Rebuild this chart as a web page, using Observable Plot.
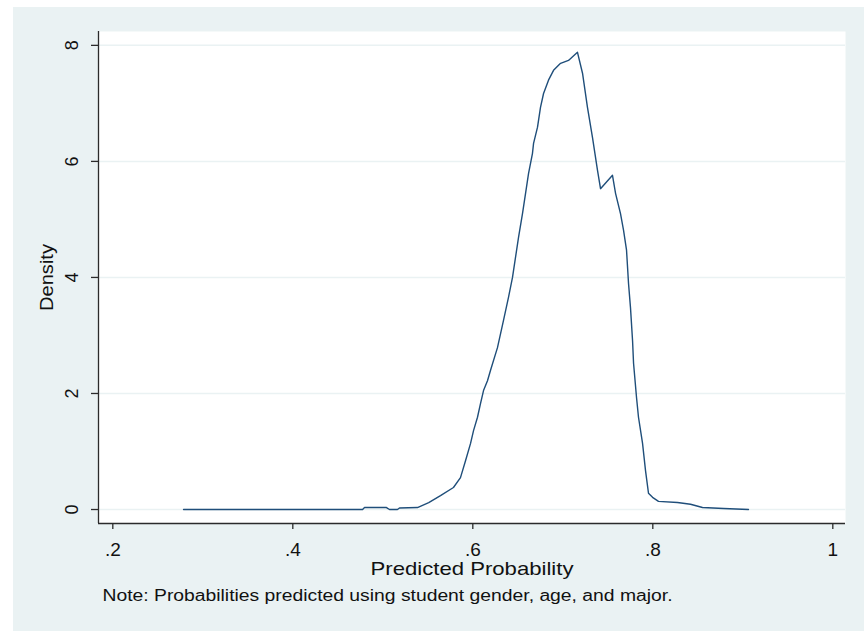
<!DOCTYPE html>
<html>
<head>
<meta charset="utf-8">
<script src="https://cdn.jsdelivr.net/npm/d3@7"></script>
<script src="https://cdn.jsdelivr.net/npm/@observablehq/plot@0.6"></script>
<style>
  html, body { margin: 0; padding: 0; background: #ffffff; }
  #bg { position: absolute; left: 13px; top: 7px; width: 851px; height: 624px; background: #eaf2f3; }
  #chart { position: absolute; left: 0; top: 0; }
</style>
</head>
<body>
<div id="bg"></div>
<div id="chart"></div>
<script>
// Predicted probability (x) and kernel density (y)
const probability = [0.2786, 0.4775, 0.4797, 0.5041, 0.5074, 0.5163, 0.5185, 0.5385, 0.551, 0.5641,
  0.5785, 0.5863, 0.5919, 0.5975, 0.6008, 0.6052, 0.6086, 0.6119, 0.6163, 0.6197,
  0.6274, 0.6341, 0.6397, 0.6441, 0.6474, 0.6508, 0.6552, 0.6586, 0.6619, 0.6663,
  0.6675, 0.6719, 0.6752, 0.6786, 0.6841, 0.6897, 0.6975, 0.7063, 0.7163, 0.7219,
  0.7274, 0.7330, 0.7386, 0.7419, 0.7552, 0.7586, 0.7641, 0.7675, 0.7708, 0.7730,
  0.7752, 0.7775, 0.7786, 0.7819, 0.7841, 0.7886, 0.7919, 0.7952, 0.7997, 0.8063,
  0.8274, 0.8419, 0.8552, 0.8786, 0.9063];
const density = [0, 0, 0.034, 0.034, 0, 0, 0.026, 0.034, 0.12, 0.24,
  0.38, 0.55, 0.84, 1.14, 1.36, 1.59, 1.83, 2.05, 2.22, 2.40,
  2.79, 3.26, 3.66, 4.0, 4.34, 4.69, 5.10, 5.45, 5.79, 6.14,
  6.31, 6.59, 6.93, 7.17, 7.40, 7.57, 7.69, 7.74, 7.88, 7.52,
  6.93, 6.41, 5.84, 5.53, 5.76, 5.45, 5.10, 4.81, 4.47, 3.90,
  3.48, 2.91, 2.52, 1.93, 1.59, 1.14, 0.67, 0.28, 0.21, 0.14,
  0.12, 0.09, 0.034, 0.017, 0];
const xTicks = [0.2, 0.4, 0.6, 0.8, 1];
const yTicks = [0, 2, 4, 6, 8];
const xTitle = "Predicted Probability";
const yTitle = "Density";
const note = "Note: Probabilities predicted using student gender, age, and major.";

const data = probability.map((p, i) => ({p, d: density[i]}));
const fmtX = d => d === 1 ? "1" : String(d).replace(/^0\./, ".");
const font = "'Liberation Sans', Arial, sans-serif";
const axisColor = "#2b2b2b";
const xDom = [0.1841, 1.0141];
const yDom = [-0.241, 8.239];
const xMid = (xDom[0] + xDom[1]) / 2;
const yMid = (yDom[0] + yDom[1]) / 2;

const chart = Plot.plot({
  width: 864,
  height: 631,
  marginLeft: 98,
  marginRight: 19,
  marginTop: 31,
  marginBottom: 108,
  style: {background: "transparent", fontFamily: font, overflow: "visible"},
  x: {domain: xDom, axis: null},
  y: {domain: yDom, axis: null},
  marks: [
    Plot.frame({fill: "white", stroke: null}),
    Plot.ruleY(yTicks, {stroke: "#eaf2f3", strokeWidth: 1.5}),
    Plot.line(data, {x: "p", y: "d", stroke: "#1f4e7a", strokeWidth: 1.4}),
    // axis lines
    Plot.ruleX([xDom[0]], {stroke: axisColor, strokeWidth: 1.3}),
    Plot.ruleY([yDom[0]], {stroke: axisColor, strokeWidth: 1.3}),
    // y ticks and labels
    Plot.axisY(yTicks, {ticks: yTicks, tickSize: 7, tickFormat: () => "", stroke: axisColor, strokeWidth: 1.3, label: null}),
    Plot.text(yTicks, {x: xDom[0], y: d => d, text: d => String(d), dx: -26, rotate: -90,
      fontSize: 18, fill: "#111"}),
    // x ticks and labels
    Plot.axisX(xTicks, {ticks: xTicks, tickSize: 6, tickFormat: () => "", stroke: axisColor, strokeWidth: 1.3, label: null}),
    Plot.text(xTicks, {x: d => d, y: yDom[0], text: fmtX, dy: 26, fontSize: 19, fill: "#111"}),
    // titles
    Plot.text([xTitle], {x: xMid, y: yDom[0], text: d => d, dy: 45, fontSize: 19, fill: "#111"}),
    Plot.text([yTitle], {x: xDom[0], y: yMid, text: d => d, dx: -51, rotate: -90, fontSize: 18, fill: "#111"}),
    Plot.text([note], {x: xDom[0], y: yDom[0], text: d => d, dx: 4, dy: 72, textAnchor: "start", fontSize: 16, fill: "#111"})
  ]
});
document.getElementById("chart").appendChild(chart);

// widen titles to match the reference's horizontally stretched type
const widths = new Map([[xTitle, 203], [yTitle, 67], [note, 570]]);
d3.select(chart).selectAll("text").each(function() {
  const w = widths.get(this.textContent);
  if (w) d3.select(this).attr("textLength", w).attr("lengthAdjust", "spacingAndGlyphs");
});
</script>
</body>
</html>
